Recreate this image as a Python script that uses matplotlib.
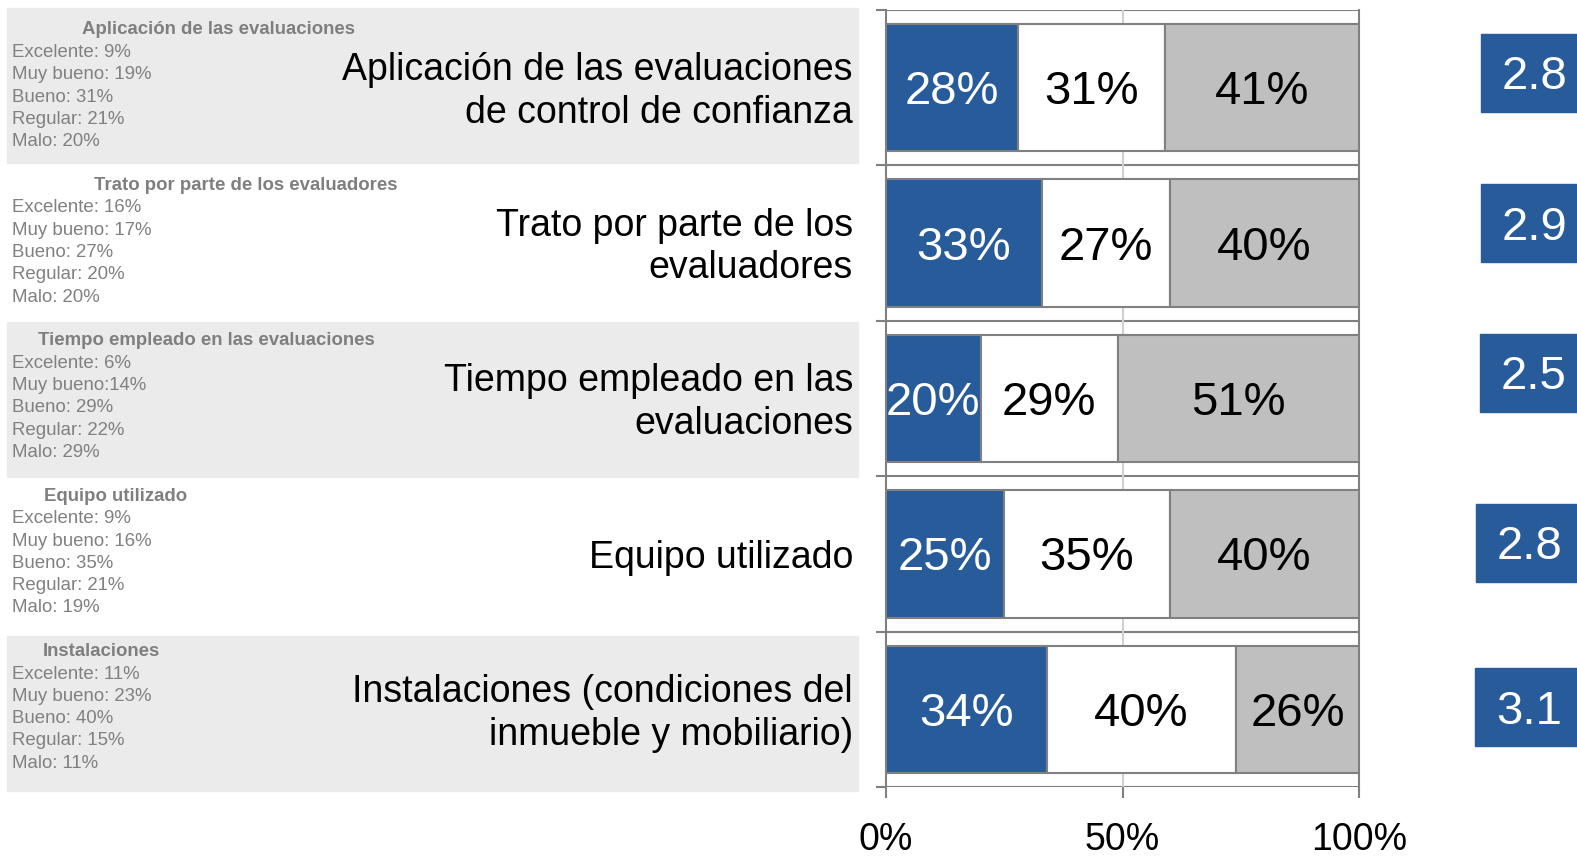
import numpy as np
import matplotlib
matplotlib.use('Agg')
import matplotlib.pyplot as plt
from matplotlib.patches import Rectangle

plt.rcParams['font.family'] = ['Liberation Sans', 'DejaVu Sans']

# data
categories = ['Aplicación de las evaluaciones\nde control de confianza',
              'Trato por parte de los\nevaluadores',
              'Tiempo empleado en las\nevaluaciones',
              'Equipo utilizado',
              'Instalaciones (condiciones del\ninmueble y mobiliario)']
short_titles = ['Aplicación de las evaluaciones',
                'Trato por parte de los evaluadores',
                'Tiempo empleado en las evaluaciones',
                'Equipo utilizado',
                'Instalaciones']
excelente = [9, 16, 6, 9, 11]
muy_bueno = [19, 17, 14, 16, 23]
bueno = [31, 27, 29, 35, 40]
regular = [21, 20, 22, 21, 15]
malo = [20, 20, 29, 19, 11]
scores = [2.8, 2.9, 2.5, 2.8, 3.1]
xtick_vals = [0, 50, 100]
xtick_labels = ['0%', '50%', '100%']

# layout (pixels)
W, H = 1577, 858
top_px, bot_px = 10, 787
row_px = (bot_px - top_px) / 5
title_x = [82, 94, 38, 44, 43]
box_x = [1481, 1481, 1480, 1476, 1475]
box_off = [-15, -20, -26, -11, -2]
band_shift = [-2, 0, 1, 0, 4]

blue = '#285b9a'
grey_bar = '#bfbfbf'
edge = '#808080'
band = '#ebebeb'
small_col = '#808080'

top_seg = np.array(excelente) + np.array(muy_bueno)
mid_seg = np.array(bueno)
low_seg = np.array(regular) + np.array(malo)
y = np.arange(len(categories))

fig = plt.figure(figsize=(W / 100, H / 100), dpi=100)

# background / labels axes on the left
bg = fig.add_axes([0, 1 - bot_px / H, 858 / W, (bot_px - top_px) / H])
bg.set_xlim(0, 858)
bg.set_ylim(4.5, -0.5)
bg.axis('off')
for i in range(len(categories)):
    if i % 2 == 0:
        bg.add_patch(Rectangle((7, i - 0.5 + band_shift[i] / row_px), 851, 1,
                               color=band, zorder=0, clip_on=False))
    bg.text(853, i + 4 / row_px, categories[i], ha='right', va='center',
            fontsize=27, linespacing=1.24, color='black')
    bg.text(title_x[i], i - 0.5 + 20 / row_px, short_titles[i], ha='left',
            va='center', fontsize=13.4, fontweight='bold', color='#7f7f7f')
    mb_sep = '' if i == 2 else ' '
    lines = ['Excelente: %d%%' % excelente[i],
             'Muy bueno:%s%d%%' % (mb_sep, muy_bueno[i]),
             'Bueno: %d%%' % bueno[i],
             'Regular: %d%%' % regular[i],
             'Malo: %d%%' % malo[i]]
    for k, line in enumerate(lines):
        bg.text(12, i - 0.5 + (42.5 + 22.3 * k) / row_px, line, ha='left',
                va='center', fontsize=13.4, color=small_col)

# main bar chart
ax = fig.add_axes([886 / W, 1 - bot_px / H, (1359 - 886) / W,
                   (bot_px - top_px) / H])
bh = 0.82
lab_dy = 4.5 / row_px
ax.barh(y, top_seg, height=bh, color=blue, edgecolor=edge, linewidth=1.5, zorder=3)
ax.barh(y, mid_seg, left=top_seg, height=bh, color='white', edgecolor=edge,
        linewidth=1.5, zorder=3)
ax.barh(y, low_seg, left=top_seg + mid_seg, height=bh, color=grey_bar,
        edgecolor=edge, linewidth=1.5, zorder=3)
for i in range(len(y)):
    ax.text(top_seg[i] / 2, y[i] + lab_dy, '%d%%' % top_seg[i], ha='center',
            va='center', fontsize=34, color='white', zorder=4)
    ax.text(top_seg[i] + mid_seg[i] / 2, y[i] + lab_dy, '%d%%' % mid_seg[i],
            ha='center', va='center', fontsize=34, color='black', zorder=4)
    ax.text(top_seg[i] + mid_seg[i] + low_seg[i] / 2, y[i] + lab_dy,
            '%d%%' % low_seg[i], ha='center', va='center', fontsize=34,
            color='black', zorder=4)

ax.set_xlim(0, 100)
ax.set_ylim(4.5, -0.5)
ax.set_yticks(np.arange(-0.5, 5, 1))
ax.set_yticklabels([])
ax.yaxis.grid(True, color=edge, linewidth=1.5)
ax.axvline(50, color='#d0d0d0', linewidth=1.5, zorder=1)
ax.set_axisbelow(True)
ax.set_xticks(xtick_vals)
ax.set_xticklabels(xtick_labels, fontsize=27)
ax.tick_params(axis='y', length=7, width=1.5, color=edge)
ax.tick_params(axis='x', length=8, width=1.5, color=edge, pad=17)
for s in ['left', 'right']:
    ax.spines[s].set_color(edge)
    ax.spines[s].set_linewidth(1.5)
for s in ['top', 'bottom']:
    ax.spines[s].set_visible(False)

# score boxes on the right
sc = fig.add_axes([1460 / W, 1 - bot_px / H, (W - 1460) / W, (bot_px - top_px) / H])
sc.set_xlim(1460, W)
sc.set_ylim(4.5, -0.5)
sc.axis('off')
box_h = 78 / row_px
for i in range(len(scores)):
    yc = y[i] + box_off[i] / row_px
    sc.add_patch(Rectangle((box_x[i], yc - box_h / 2), 150, box_h, color=blue,
                           clip_on=False))
    sc.text(box_x[i] + 21, yc + 4.5 / row_px, '%.1f' % scores[i], ha='left',
            va='center', fontsize=34, color='white', clip_on=False)

fig.savefig('out.png', dpi=100)
